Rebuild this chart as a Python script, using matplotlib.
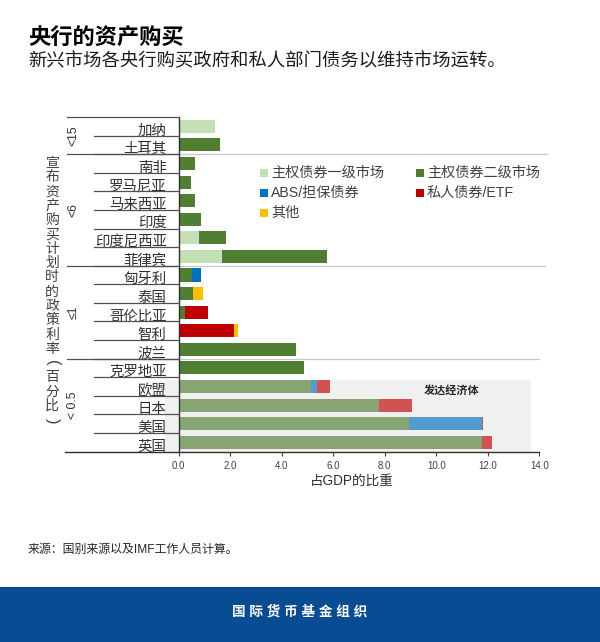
import matplotlib
matplotlib.use("Agg")
import matplotlib.pyplot as plt
from matplotlib.patches import Rectangle

plt.rcParams["font.family"] = ["Liberation Sans", "Noto Sans CJK SC", "DejaVu Sans"]

countries = ["加纳", "土耳其", "南非", "罗马尼亚", "马来西亚", "印度", "印度尼西亚", "菲律宾", "匈牙利",
             "泰国", "哥伦比亚", "智利", "波兰", "克罗地亚", "欧盟", "日本", "美国", "英国"]
primary = [1.4, 0, 0, 0, 0, 0, 0.78, 1.68, 0, 0, 0, 0, 0, 0, 0, 0, 0, 0]
secondary = [0, 1.6, 0.62, 0.48, 0.62, 0.86, 1.05, 4.08, 0.5, 0.56, 0.25, 0, 4.54, 4.85, 5.15, 7.77, 8.95, 11.77]
abs_bonds = [0, 0, 0, 0, 0, 0, 0, 0, 0.38, 0, 0, 0, 0, 0, 0.2, 0, 2.82, 0]
private = [0, 0, 0, 0, 0, 0, 0, 0, 0, 0, 0.9, 2.13, 0, 0, 0.52, 1.28, 0.05, 0.41]
other = [0, 0, 0, 0, 0, 0, 0, 0, 0, 0.38, 0, 0.18, 0, 0, 0, 0, 0, 0]

series = [primary, secondary, abs_bonds, private, other]
series_names = ["主权债券一级市场", "主权债券二级市场", "ABS/担保债券", "私人债券/ETF", "其他"]
colors = ["#c5e0b4", "#507e32", "#0070c0", "#c00000", "#ffc000"]

groups = ["<15", "<6", "≤1", "< 0.5"]
group_sizes = [2, 6, 5, 5]
xticks = [0, 2, 4, 6, 8, 10, 12, 14]

W, H = 600, 642
fig = plt.figure(figsize=(6, 6.42), dpi=100)
ax = fig.add_axes([178.8 / W, 1 - 451.6 / H, 360.5 / W, 334.6 / H])

# developed economies block sits behind the bars
ax.add_patch(Rectangle((-0.55, 14.15), 14.22, 3.85, facecolor="#f0f0f0", edgecolor="none",
                       clip_on=False, zorder=0))

n = len(countries)
left = [0.0] * n
for vals, col in zip(series, colors):
    for i in range(n):
        if vals[i] > 0:
            ax.barh(i + 0.5, vals[i], left=left[i], height=0.7, color=col,
                    alpha=0.66 if i >= 14 else 1, zorder=2)
            left[i] += vals[i]

ax.set_xlim(0, 14)
ax.set_ylim(n, 0)
ax.set_xticks(xticks)
ax.set_xticklabels([f"{t:.1f}" for t in xticks], fontsize=7, color="#404040")
ax.set_yticks([])
ax.tick_params(axis="x", length=3, width=0.8, color="#404040", pad=4)
for s in ["top", "right"]:
    ax.spines[s].set_visible(False)
ax.spines["left"].set_color("#303030")
ax.spines["bottom"].set_color("#303030")
ax.spines["left"].set_linewidth(1)
ax.spines["bottom"].set_linewidth(1)

tr = ax.get_yaxis_transform()

# country labels and row rules on the left
for i, name in enumerate(countries):
    ax.text(-0.034, i + 0.72, name, transform=tr, ha="right", va="center", fontsize=10.4, color="#303030")
    if i > 0:
        ax.plot([-0.235, 0], [i, i], transform=tr, color="#505050", lw=0.9, clip_on=False, zorder=3)

# group rules and labels
pos = 0
group_x = -0.293
rule_end = {2: 1.02, 8: 1.015, 13: 1.0}
for g, size in zip(groups, group_sizes):
    ax.plot([-0.31, 0], [pos, pos], transform=tr, color="#505050", lw=0.9, clip_on=False, zorder=3)
    if pos in rule_end:
        ax.plot([0, rule_end[pos]], [pos, pos], transform=tr, color="#c8c8c8", lw=0.9, clip_on=False, zorder=1)
    ax.text(group_x, pos + size / 2, g, transform=tr, rotation=90, ha="center", va="center",
            fontsize=8.8, color="#303030")
    pos += size
ax.plot([-0.316, 0], [n, n], transform=tr, color="#303030", lw=1, clip_on=False, zorder=3)

# vertical axis title, one character at a time so the brackets can turn
ylabel = "宣布资产购买计划时的政策利率(百分比)"
for k, ch in enumerate(ylabel):
    turned = ch in "()"
    fig.text(52 / W, 1 - (163 + k * 14.3) / H, ch, ha="center", va="center", fontsize=12 if turned else 10,
             color="#404040", rotation=270 if turned else 0)

ax.text(0.758, 14.73, "发达经济体", transform=tr, ha="center", va="center", fontsize=8,
        fontweight="bold", color="#262626")

# legend placed by hand to keep the two column layout
legend_pos = [(260, 173), (416, 173), (260, 193), (416, 193), (260, 213)]
for name, col, (px, py) in zip(series_names, colors, legend_pos):
    fig.patches.append(Rectangle((px / W, 1 - (py + 3.5) / H), 7.5 / W, 7.5 / H, transform=fig.transFigure,
                                 facecolor=col, edgecolor="none"))
    fig.text((px + 11) / W, 1 - py / H, name, ha="left", va="center", fontsize=10.2, color="#404040")

fig.text(352 / W, 1 - 480.5 / H, "占GDP的比重", ha="center", va="center", fontsize=9.8, color="#303030")

fig.text(28 / W, 1 - 39 / H, "央行的资产购买", ha="left", va="center", fontsize=16, fontweight="bold", color="black")
fig.text(28 / W, 1 - 61 / H, "新兴市场各央行购买政府和私人部门债务以维持市场运转。", ha="left", va="center",
         fontsize=13.2, color="#1a1a1a")
fig.text(28 / W, 1 - 549.5 / H, "来源：国别来源以及IMF工作人员计算。", ha="left", va="center", fontsize=8.6, color="#262626")

fig.patches.append(Rectangle((0, 0), 1, 55.3 / H, transform=fig.transFigure, facecolor="#084c93", edgecolor="none"))
fig.text(300 / W, 1 - 612 / H, "国 际 货 币 基 金 组 织", ha="center", va="center", fontsize=9.8,
         fontweight="bold", color="white")

fig.savefig("out.png", dpi=100)
